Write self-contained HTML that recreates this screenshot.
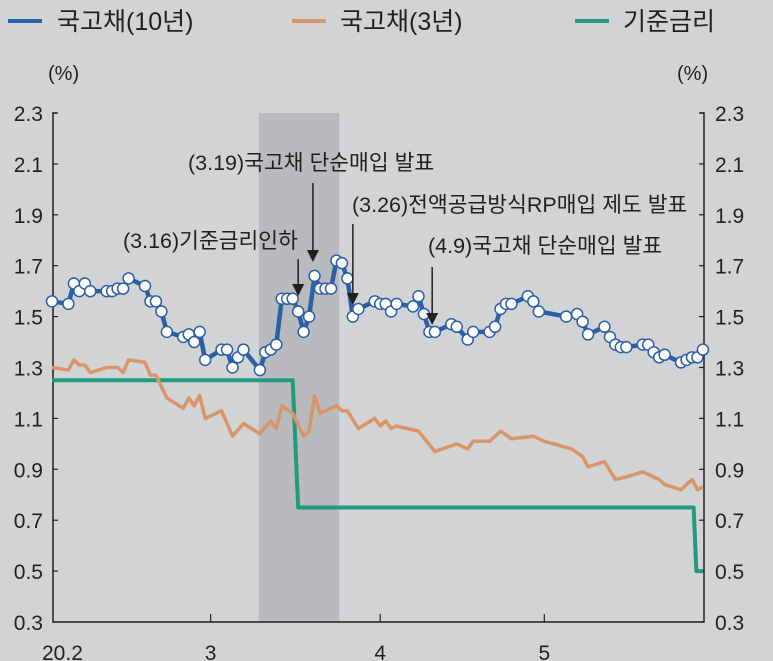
<!DOCTYPE html>
<html><head><meta charset="utf-8">
<style>
html,body{margin:0;padding:0;background:#d2d3d5;}
svg{display:block;}
text{font-family:"Liberation Sans Narrow","Liberation Sans","Noto Sans CJK KR",sans-serif;fill:#231f20;}
.ann{font-family:"Liberation Sans","Noto Sans CJK KR",sans-serif;font-size:21.5px;}
.leg{font-family:"Liberation Sans","Noto Sans CJK KR",sans-serif;font-size:25px;}
</style></head>
<body>
<svg id="chart" width="773" height="661" viewBox="0 0 773 661">
<rect x="0" y="0" width="773" height="661" fill="#d2d3d5"/>
<g id="legend">
 <g><line x1="8" y1="21" x2="42" y2="21" stroke="#2b5fa6" stroke-width="4"/><text x="57" y="30" class="leg">국고채(10년)</text></g>
 <g><line x1="292" y1="21" x2="326" y2="21" stroke="#d9956a" stroke-width="4"/><text x="340" y="30" class="leg">국고채(3년)</text></g>
 <g><line x1="575" y1="21" x2="609" y2="21" stroke="#1f9b80" stroke-width="4"/><text x="623" y="30" class="leg">기준금리</text></g>
</g>
<text x="48" y="80" font-size="20">(%)</text>
<text x="677" y="80" font-size="20">(%)</text>
<g id="plot"></g>
</svg>
<script>
const xTickLabels=["20.2","3","4","5"];
const xTickDays=[0,29,60,90];
const yTicks=[0.3,0.5,0.7,0.9,1.1,1.3,1.5,1.7,1.9,2.1,2.3];
const shadeDays=[37.8,52.5];
const tenYDays=[0,3,4,5,6,7,10,11,12,13,14,17,18,19,20,21,24,25,26,27,28,31,32,33,34,35,38,39,40,41,42,43,44,45,46,47,48,49,50,51,52,53,54,55,56,59,60,61,62,63,66,67,68,69,70,73,74,76,77,80,81,82,83,84,87,88,89,94,96,97,98,101,102,103,104,105,108,109,110,111,112,115,116,117,118,119];
const tenYVals=[1.56,1.55,1.63,1.60,1.63,1.60,1.60,1.60,1.61,1.61,1.65,1.62,1.56,1.56,1.52,1.44,1.42,1.43,1.40,1.44,1.33,1.37,1.37,1.30,1.34,1.37,1.29,1.36,1.37,1.39,1.57,1.57,1.57,1.52,1.44,1.50,1.66,1.61,1.61,1.61,1.72,1.71,1.65,1.50,1.53,1.56,1.55,1.55,1.52,1.55,1.54,1.58,1.51,1.44,1.44,1.47,1.46,1.41,1.44,1.44,1.46,1.53,1.55,1.55,1.58,1.56,1.52,1.50,1.51,1.48,1.43,1.46,1.42,1.39,1.38,1.38,1.39,1.39,1.36,1.34,1.35,1.32,1.33,1.34,1.34,1.37];
const threeYDays=[0,3,4,5,6,7,10,12,13,14,17,18,19,21,24,25,26,27,28,31,33,35,38,40,41,42,44,46,47,48,49,52,53,54,56,59,60,61,62,63,67,70,74,76,77,80,82,84,88,90,95,97,98,101,103,105,108,111,112,115,117,118,119];
const threeYVals=[1.30,1.29,1.33,1.31,1.31,1.28,1.30,1.30,1.28,1.33,1.32,1.27,1.27,1.18,1.14,1.18,1.15,1.19,1.10,1.13,1.03,1.08,1.04,1.09,1.06,1.15,1.12,1.03,1.05,1.19,1.12,1.15,1.13,1.13,1.06,1.10,1.07,1.09,1.06,1.07,1.05,0.97,1.00,0.98,1.01,1.01,1.05,1.02,1.03,1.01,0.98,0.95,0.91,0.93,0.86,0.87,0.89,0.86,0.84,0.82,0.86,0.82,0.83];
const baseDays=[0,44,45,117.3,117.8,119];
const baseVals=[1.25,1.25,0.75,0.75,0.50,0.50];
const annTexts=["(3.19)국고채 단순매입 발표","(3.16)기준금리인하","(3.26)전액공급방식RP매입 제도 발표","(4.9)국고채 단순매입 발표"];
const annDays=[47.7,45,55,69.5];

const X0=53,X1=704,Y0=622,Y1=113;
function xs(d){return 52+d*5.47;}
function ys(v){return Y0-(v-0.3)/2.0*(Y0-Y1);}
const NS="http://www.w3.org/2000/svg";
const plot=document.getElementById('plot');
function mk(tag,attrs,parent){const e=document.createElementNS(NS,tag);for(const k in attrs)e.setAttribute(k,attrs[k]);(parent||plot).appendChild(e);return e;}

const sh=mk('rect',{x:xs(shadeDays[0]),y:Y1,width:xs(shadeDays[1])-xs(shadeDays[0]),height:Y0-Y1,fill:'#b9babd'});



const ax=mk('path',{d:`M${X0+4},${Y1}H${X0}V${Y0}H${X1}V${Y1}H${X1-4}`,fill:'none',stroke:'#231f20','stroke-width':1.5});


yTicks.forEach(v=>{
  const y=ys(v);
  const t1=mk('line',{x1:X0,x2:X0+5,y1:y,y2:y,stroke:'#231f20','stroke-width':1.2});
  
  
  const t2=mk('line',{x1:X1-5,x2:X1,y1:y,y2:y,stroke:'#231f20','stroke-width':1.2});
  
  
  const l=mk('text',{x:43,y:y+8,'font-size':21,'text-anchor':'end'});l.textContent=v.toFixed(1);
  
  
  const r=mk('text',{x:715,y:y+8,'font-size':21});r.textContent=v.toFixed(1);
  
  
});
xTickDays.forEach((d,i)=>{
  const x=xs(d);
  if(i>0){const t=mk('line',{x1:x,x2:x,y1:Y0,y2:Y0-8,stroke:'#231f20','stroke-width':1.2});
  
  }
  const l=mk('text',{x:i==0?42:x,y:660,'font-size':21,'text-anchor':i==0?'start':'middle'});l.textContent=xTickLabels[i];
  
  
});

function poly(days,vals,color,w,name){
  const p=mk('polyline',{points:days.map((d,i)=>xs(d)+','+ys(vals[i])).join(' '),fill:'none',stroke:color,'stroke-width':w,'stroke-linejoin':'round'});
  
  
}
poly(baseDays,baseVals,'#1f9b80',4,'base-rate-line');
poly(threeYDays,threeYVals,'#d9956a',3.5,'bond-3y-line');
poly(tenYDays,tenYVals,'#2b5fa6',4.5,'bond-10y-line');
tenYDays.forEach((d,i)=>{
  const c=mk('circle',{cx:xs(d),cy:ys(tenYVals[i]),r:5.5,fill:'#fff',stroke:'#2b5fa6','stroke-width':1.5});
  
  
});

const annPos=[[188,170,183,262],[123,248,259,296],[352,212,224,305],[428,253,267,325]];
annTexts.forEach((t,i)=>{
  const g=mk('g',{});
  
  
  const x=xs(annDays[i]);const [tx,ty,a0,a1]=annPos[i];
  const tt=mk('text',{x:tx,y:ty,class:'ann'},g);tt.textContent=t;
  mk('line',{x1:x,x2:x,y1:a0,y2:a1-10,stroke:'#231f20','stroke-width':1.5},g);
  mk('path',{d:`M${x-6},${a1-12}L${x+6},${a1-12}L${x},${a1}Z`,fill:'#231f20'},g);
});
</script>
</body></html>
